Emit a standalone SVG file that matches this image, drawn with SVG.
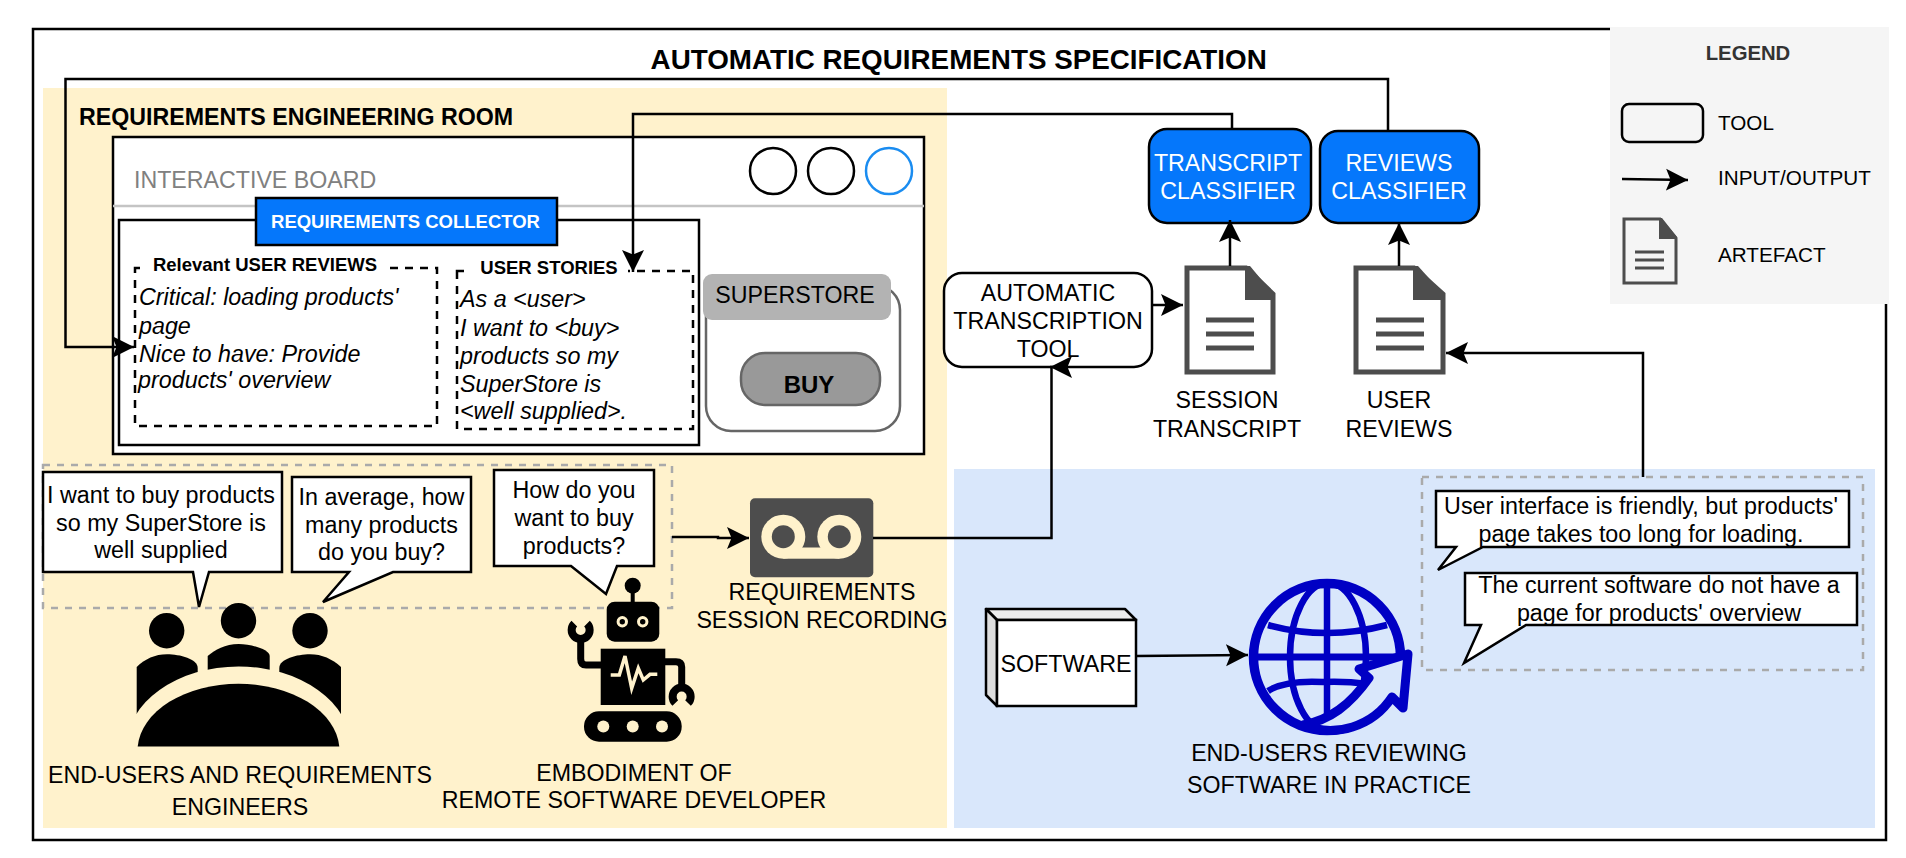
<svg xmlns="http://www.w3.org/2000/svg" width="1906" height="858" viewBox="0 0 1906 858">
<style>
text{font-family:"Liberation Sans",Arial,sans-serif;fill:#000;font-size:23.300px}
.m{text-anchor:middle}
.b{font-weight:bold}
.i{font-style:italic}
.c{font-size:23.200px}
.w{fill:#fff}
.tool{fill:#fff;stroke:#000;stroke-width:2.500}
.cls{fill:#0577fb;stroke:#000;stroke-width:2.500}
.bub{fill:#fff;stroke:#000;stroke-width:2.500;stroke-linejoin:miter}
.dash{fill:none;stroke:#000;stroke-width:2.500;stroke-dasharray:8 7}
.gd{fill:none;stroke:#aaa;stroke-width:2.500;stroke-dasharray:7 7}
.doc{fill:#fff;stroke:#4d4d4d;stroke-width:5}
.dk{fill:#4d4d4d;stroke:none}
.ln{stroke:#4d4d4d;stroke-width:5}
.cn{fill:none;stroke:#000;stroke-width:2.500;marker-end:url(#ah)}
.gl{fill:none;stroke:#0000c4;stroke-width:9.500}
.gt{fill:none;stroke:#0000c4;stroke-width:6.500}
.arm{fill:none;stroke:#000;stroke-width:7;stroke-linejoin:round}
.wr{fill:none;stroke:#000;stroke-width:8}
.ey{fill:#fff2cc}
</style>
<defs>
<marker id="ah" markerUnits="userSpaceOnUse" markerWidth="23" markerHeight="24" viewBox="0 0 23 24" refX="22" refY="12" orient="auto"><path d="M22 12L0 1L4.500 12L0 23Z" fill="#000"/></marker>
</defs>
<rect width="1906" height="858" fill="#fff"/>
<rect id="frame" x="33" y="29" width="1853" height="811" fill="none" stroke="#000" stroke-width="2.500"/>
<rect id="legend-bg" x="1610" y="27" width="279" height="277" fill="#f5f5f5"/>
<text id="title" x="958.700" y="69" class="m b" style="font-size:27.800px">AUTOMATIC REQUIREMENTS SPECIFICATION</text>
<rect id="room" x="43" y="88" width="904" height="740" fill="#fff2cc"/>
<rect id="practice" x="954" y="469" width="921" height="359" fill="#d9e7fb"/>
<text id="room-label" x="79" y="125" class="b" style="font-size:23.200px">REQUIREMENTS ENGINEERING ROOM</text>

<g id="board">
<rect x="113" y="137" width="811" height="317" fill="#fff" stroke="#000" stroke-width="2.500"/>
<path d="M113 206H924" stroke="#c4c4c4" stroke-width="2.500"/>
<text x="134" y="188" style="font-size:23.200px;fill:#808080">INTERACTIVE BOARD</text>
<circle cx="773" cy="171" r="23" fill="#fff" stroke="#000" stroke-width="2.500"/>
<circle cx="831" cy="171" r="23" fill="#fff" stroke="#000" stroke-width="2.500"/>
<circle cx="889" cy="171" r="23" fill="#fff" stroke="#1a8cf0" stroke-width="2.500"/>
</g>
<g id="collector">
<rect x="119" y="220" width="580" height="225" fill="#fff" stroke="#000" stroke-width="2.500"/>
<rect x="256" y="198" width="301" height="47" fill="#0577fb" stroke="#000" stroke-width="2.500"/>
<text x="405.500" y="228" class="m b w" style="font-size:18.500px">REQUIREMENTS COLLECTOR</text>
</g>
<g id="reviews-panel">
<rect x="135" y="268" width="302" height="158" class="dash"/>
<rect x="140" y="252" width="248" height="24" fill="#fff"/>
<text x="265" y="271" class="m b" style="font-size:18.500px">Relevant USER REVIEWS</text>
<text x="139" y="305" class="i">Critical: loading products'</text>
<text x="139" y="334" class="i">page</text>
<text x="139" y="362" class="i">Nice to have: Provide</text>
<text x="138" y="388" class="i">products' overview</text>
</g>
<g id="stories-panel">
<rect x="457" y="271" width="236" height="158" class="dash"/>
<rect x="464" y="255" width="164" height="24" fill="#fff"/>
<text x="549" y="274" class="m b" style="font-size:18.500px">USER STORIES</text>
<text x="460" y="307" class="i">As a &lt;user&gt;</text>
<text x="460" y="336" class="i">I want to &lt;buy&gt;</text>
<text x="460" y="364" class="i">products so my</text>
<text x="460" y="392" class="i">SuperStore is</text>
<text x="460" y="419" class="i">&lt;well supplied&gt;.</text>
</g>
<g id="superstore">
<rect x="706" y="285" width="194" height="146" rx="25" fill="#fff" stroke="#666" stroke-width="2.500"/>
<rect x="703" y="274" width="188" height="46" rx="9" fill="#b3b3b3"/>
<text x="795" y="303" class="m c">SUPERSTORE</text>
<rect x="741" y="353" width="139" height="52" rx="24" fill="#999" stroke="#666" stroke-width="2.500"/>
<text x="809" y="393" class="m b" style="font-size:24px">BUY</text>
</g>

<g id="transcript-classifier">
<rect x="1149" y="129" width="162" height="94" rx="18" class="cls"/>
<text x="1228" y="171" class="m c w">TRANSCRIPT</text>
<text x="1228" y="199" class="m c w">CLASSIFIER</text>
</g>
<g id="reviews-classifier">
<rect x="1320" y="131" width="159" height="92" rx="18" class="cls"/>
<text x="1399" y="171" class="m c w">REVIEWS</text>
<text x="1399" y="199" class="m c w">CLASSIFIER</text>
</g>
<g id="transcription-tool">
<rect x="944" y="273" width="208" height="94" rx="18" class="tool"/>
<text x="1048" y="301" class="m c">AUTOMATIC</text>
<text x="1048" y="329" class="m c">TRANSCRIPTION</text>
<text x="1048" y="357" class="m c">TOOL</text>
</g>
<g id="session-transcript">
<path d="M1187 268H1246L1273 294V372H1187Z" class="doc"/>
<path d="M1245 266H1250L1275 296V300H1245Z" class="dk"/>
<path d="M1206 320H1254M1206 334H1254M1206 348H1254" class="ln"/>
<text x="1227" y="408" class="m c">SESSION</text>
<text x="1227" y="437" class="m c">TRANSCRIPT</text>
</g>
<g id="user-reviews">
<path d="M1356 268H1414L1443 294V372H1356Z" class="doc"/>
<path d="M1413 266H1418L1445 296V300H1413Z" class="dk"/>
<path d="M1376 320H1424M1376 334H1424M1376 348H1424" class="ln"/>
<text x="1399" y="408" class="m c">USER</text>
<text x="1399" y="437" class="m c">REVIEWS</text>
</g>

<g id="legend">
<text x="1748" y="60" class="m b" style="font-size:20.300px;fill:#333">LEGEND</text>
<rect x="1622" y="104" width="81" height="38" rx="7" fill="#f5f5f5" stroke="#000" stroke-width="2.500"/>
<text x="1718" y="130" style="font-size:20.700px">TOOL</text>
<path d="M1622 179L1688 180" class="cn"/>
<text x="1718" y="185" style="font-size:20.700px">INPUT/OUTPUT</text>
<path d="M1624 219H1660L1676 238V283H1624Z" fill="#f5f5f5" stroke="#4d4d4d" stroke-width="3"/>
<path d="M1659 218H1662L1677 237V239H1659Z" class="dk"/>
<path d="M1635 252H1664M1635 260H1664M1635 268H1664" stroke="#4d4d4d" stroke-width="3"/>
<text x="1718" y="262" style="font-size:20.700px">ARTEFACT</text>
</g>

<rect id="room-group" x="43" y="465" width="629" height="143" class="gd"/>
<g id="bubble-1">
<path d="M43 472H282V572H209L199 607L193 572H43Z" class="bub"/>
<text x="161" y="503" class="m">I want to buy products</text>
<text x="161" y="531" class="m">so my SuperStore is</text>
<text x="161" y="558" class="m">well supplied</text>
</g>
<g id="bubble-2">
<path d="M292 477H471V572H393L323 602L349 572H292Z" class="bub"/>
<text x="381.500" y="505" class="m">In average, how</text>
<text x="381.500" y="533" class="m">many products</text>
<text x="381.500" y="560" class="m">do you buy?</text>
</g>
<g id="bubble-3">
<path d="M494 470H654V566H617L606 594L571 566H494Z" class="bub"/>
<text x="574" y="498" class="m">How do you</text>
<text x="574" y="526" class="m">want to buy</text>
<text x="574" y="554" class="m">products?</text>
</g>
<g id="people">
<circle cx="166.700" cy="630.700" r="17.700"/><circle cx="238.500" cy="620.700" r="17.700"/><circle cx="310" cy="630.700" r="17.700"/>
<path d="M136.700 714V667C145 659 155 654.300 167 654.300C180 654.300 197.700 659 197.700 668V714Z"/>
<path d="M207.700 680V656C215 650 225 644 238.700 644C252 644 269.700 650 269.700 656V680Z"/>
<path d="M279.300 668C279.300 659 297 654.300 310 654.300C322 654.300 332 659 341 667V714H279.300Z"/>
<ellipse cx="238.700" cy="746.500" rx="112" ry="80" fill="#fff2cc"/>
<path d="M137.700 746.500A101 67 0 0 1 339.300 746.500Z"/>
<text x="240" y="783" class="m c">END-USERS AND REQUIREMENTS</text>
<text x="240" y="815" class="m c">ENGINEERS</text>
</g>
<g id="robot">
<circle cx="632.700" cy="585.700" r="8"/>
<rect x="630.700" y="590" width="4" height="14"/>
<rect x="606.700" y="601.700" width="52.600" height="40" rx="8"/>
<circle cx="622.300" cy="621.700" r="5.700" class="ey"/><circle cx="622.300" cy="621.700" r="2.700"/>
<circle cx="642.700" cy="621.700" r="5.700" class="ey"/><circle cx="642.700" cy="621.700" r="2.700"/>
<rect x="600.700" y="648.700" width="64.600" height="56.300"/>
<path d="M610.700 675H619.300L625 656L631.700 688.300L638.300 668.300L643.300 680L650 674.300H657.300" fill="none" stroke="#fff2cc" stroke-width="3.500"/>
<path d="M601 665H586Q580.700 665 580.700 659V640" class="arm"/>
<path d="M665 661.700H676Q681.700 661.700 681.700 667V687" class="arm"/>
<path d="M574.300 623.600A9 9 0 1 0 587 623.600" class="wr"/>
<path d="M675.300 703A9 9 0 1 1 688 703" class="wr"/>
<rect x="584" y="711.300" width="97.700" height="30.400" rx="15"/>
<circle cx="603.300" cy="726.500" r="6" class="ey"/><circle cx="632.700" cy="726.500" r="6" class="ey"/><circle cx="662" cy="726.500" r="6" class="ey"/>
<text x="634" y="781" class="m c">EMBODIMENT OF</text>
<text x="634" y="808" class="m c">REMOTE SOFTWARE DEVELOPER</text>
</g>
<g id="recording">
<rect x="750" y="498.300" width="123.300" height="79" rx="5" fill="#4d4d4d"/>
<circle cx="783.300" cy="536.700" r="22" class="ey"/><circle cx="839.300" cy="536.700" r="22" class="ey"/>
<rect x="783.300" y="547.500" width="56" height="11.200" class="ey"/>
<circle cx="783.300" cy="536.700" r="11.500" fill="#4d4d4d"/><circle cx="839.300" cy="536.700" r="11.500" fill="#4d4d4d"/>
<text x="822" y="600" class="m c">REQUIREMENTS</text>
<text x="822" y="628" class="m c">SESSION RECORDING</text>
</g>

<rect id="review-group" x="1422" y="477" width="441" height="193" class="gd"/>
<g id="bubble-4">
<path d="M1436 491H1849V547H1483L1438 570L1456 547H1436Z" class="bub"/>
<text x="1641" y="514" class="m">User interface is friendly, but products'</text>
<text x="1641" y="542" class="m">page takes too long for loading.</text>
</g>
<g id="bubble-5">
<path d="M1465 573H1857V625H1526L1464 663L1481 625H1465Z" class="bub"/>
<text x="1659" y="593" class="m">The current software do not have a</text>
<text x="1659" y="621" class="m">page for products' overview</text>
</g>
<g id="software">
<path d="M986 609H1125L1136 620H997Z" fill="#ececec" stroke="#000" stroke-width="2.500" stroke-linejoin="round"/>
<path d="M986 609V695L997 706V620Z" fill="#dedede" stroke="#000" stroke-width="2.500" stroke-linejoin="round"/>
<rect x="997" y="620" width="139" height="86" fill="#fff" stroke="#000" stroke-width="2.500"/>
<text x="1066" y="672" class="m">SOFTWARE</text>
</g>
<g id="globe">
<circle cx="1327" cy="657" r="73.500" class="gl"/>
<ellipse cx="1328" cy="657" rx="38" ry="74" class="gt"/>
<path d="M1327 583V731" class="gt"/>
<path d="M1253 657H1402" class="gl" style="stroke-width:7"/>
<path d="M1268 625Q1327 641 1387 625" class="gt"/>
<path d="M1268 691Q1285 680 1323 682Q1345 681 1368 684" class="gt"/>
<path d="M1408 654L1359 669L1369 678C1350 705 1330 720 1303 725A73.500 73.500 0 0 0 1392 697L1403 708Z" fill="#d9e7fb" stroke="#0000c4" stroke-width="9" stroke-linejoin="round"/>
<text x="1329" y="761" class="m c">END-USERS REVIEWING</text>
<text x="1329" y="793" class="m c">SOFTWARE IN PRACTICE</text>
</g>

<g id="connectors">
<path d="M1388 130V79H65.500V347H134" class="cn"/>
<path d="M1232 129V114H633V272" class="cn"/>
<path d="M1152 305H1183" class="cn"/>
<path d="M1230 266V220" class="cn"/>
<path d="M1399 266V223" class="cn"/>
<path d="M1643 477V353H1446" class="cn"/>
<path d="M873 538H1051.500V367H1050" class="cn"/>
<path d="M672 537H718V538H749" class="cn"/>
<path d="M1136 656L1248 655" class="cn"/>
</g>
</svg>
